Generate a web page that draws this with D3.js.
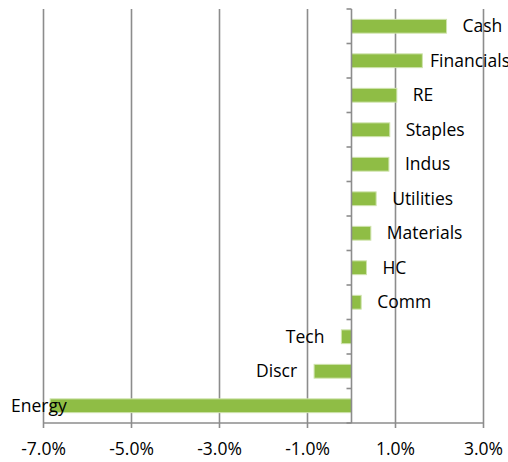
<!DOCTYPE html>
<html>
<head>
<meta charset="utf-8">
<script src="https://cdn.jsdelivr.net/npm/d3@7"></script>
<style>
  body { margin: 0; background: #fff; }
  text { font-family: "Open Sans", "Liberation Sans", sans-serif; fill: #000; }
</style>
</head>
<body>
<div id="chart"></div>
<script>
// sectors, top to bottom
const sectors = ["Cash", "Financials", "RE", "Staples", "Indus", "Utilities",
                 "Materials", "HC", "Comm", "Tech", "Discr", "Energy"];
// relative weight, %
const values = [2.16, 1.61, 1.03, 0.87, 0.85, 0.56, 0.44, 0.34, 0.22, -0.23, -0.85, -6.85];
const xTicks = [-7, -5, -3, -1, 1, 3];

const W = 508, H = 462;
const plot = { left: 43.5, right: 483.5, top: 9, bottom: 423 };
const fontSize = 17.5;

const svg = d3.select("#chart").append("svg")
    .attr("width", W)
    .attr("height", H);

const x = d3.scaleLinear().domain([-7, 3]).range([plot.left, plot.right]);
const y = d3.scaleBand().domain(sectors).range([plot.top, plot.bottom]).paddingInner(0.6).paddingOuter(0.3);
const band = d3.scaleBand().domain(sectors).range([plot.top, plot.bottom]);

const grid = "#8c8c8c";

// vertical gridlines (also serve as bottom tick marks)
svg.append("g")
    .selectAll("line")
    .data(xTicks)
    .join("line")
    .attr("x1", d => x(d)).attr("x2", d => x(d))
    .attr("y1", plot.top).attr("y2", plot.bottom + 5)
    .attr("stroke", grid)
    .attr("stroke-width", 1.6);

// bottom axis line
svg.append("line")
    .attr("x1", plot.left).attr("x2", plot.right)
    .attr("y1", plot.bottom).attr("y2", plot.bottom)
    .attr("stroke", grid).attr("stroke-width", 1.6);

// tick labels (plain hyphen, like the original)
svg.append("g")
    .selectAll("text")
    .data(xTicks)
    .join("text")
    .attr("x", d => x(d))
    .attr("y", 450)
    .attr("text-anchor", "middle")
    .attr("dominant-baseline", "middle")
    .attr("font-size", fontSize)
    .text(d => d3.format(".1f")(d).replace("\u2212", "-") + "%");

// bars
svg.append("g")
    .selectAll("rect")
    .data(sectors)
    .join("rect")
    .attr("x", (d, i) => x(Math.min(0, values[i])))
    .attr("y", d => y(d))
    .attr("width", (d, i) => Math.abs(x(values[i]) - x(0)))
    .attr("height", y.bandwidth())
    .attr("fill", "#8fbd45")
    .attr("stroke", "#cfe3ad")
    .attr("stroke-width", 1);

// category axis at zero
const zero = x(0);
svg.append("line")
    .attr("x1", zero).attr("x2", zero)
    .attr("y1", plot.top).attr("y2", plot.bottom)
    .attr("stroke", grid).attr("stroke-width", 1.6);
svg.append("g")
    .selectAll("line")
    .data(sectors.concat(["__end"]))
    .join("line")
    .attr("x1", zero - 5).attr("x2", zero)
    .attr("y1", (d, i) => plot.top + i * band.step())
    .attr("y2", (d, i) => plot.top + i * band.step())
    .attr("stroke", grid).attr("stroke-width", 1.6);

// labels, outside end, kept inside the chart area
const labels = svg.append("g")
    .selectAll("text")
    .data(sectors)
    .join("text")
    .attr("y", d => y(d) + y.bandwidth() / 2 + 1.5)
    .attr("dominant-baseline", "middle")
    .attr("font-size", fontSize)
    .text(d => d);

labels.each(function (d, i) {
    const w = this.getComputedTextLength();
    const v = values[i];
    let sx;
    if (v >= 0) sx = Math.min(x(v) + 16, W + 2 - w);
    else sx = Math.max(x(v) - 17 - w, 11);
    d3.select(this).attr("x", sx);
});
</script>
</body>
</html>
